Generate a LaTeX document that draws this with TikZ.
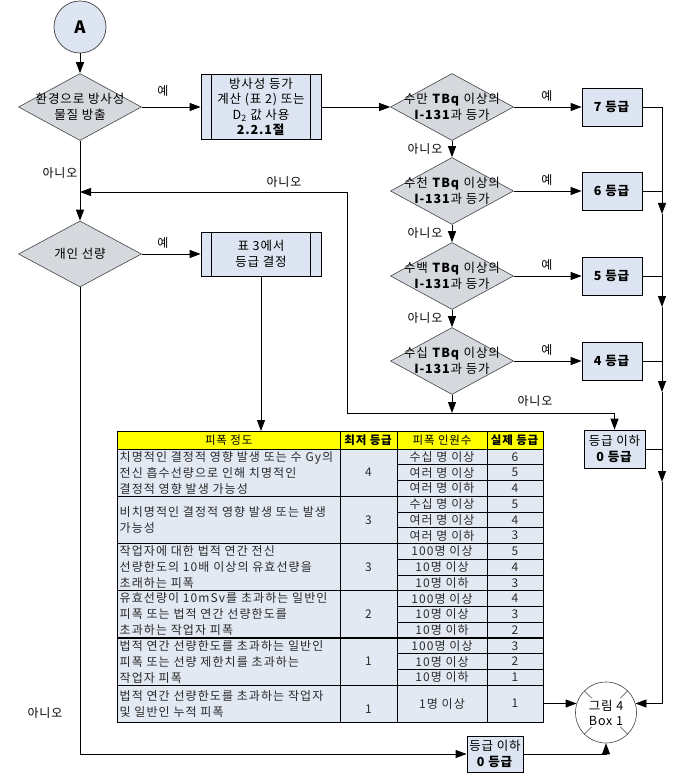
\documentclass[tikz,border=0pt]{standalone}
\usepackage{fontspec}
\setmainfont{Noto Sans CJK KR}[LetterSpace=7]
\newfontfamily\tabfont{Noto Sans CJK KR}[LetterSpace=9]
\usetikzlibrary{shapes.geometric,arrows.meta,calc}
\definecolor{diafill}{HTML}{D5D8DC}
\definecolor{boxfill}{HTML}{DCE5F1}
\definecolor{tabfill}{HTML}{E3E9F3}
\definecolor{hdrfill}{HTML}{FFFF00}
\definecolor{edge}{HTML}{444444}
\definecolor{tabtext}{HTML}{2A2A2A}
\begin{document}
\begin{tikzpicture}[x=1pt,y=-1pt,
  arr/.style={-{Triangle[length=11pt,width=8pt]}, line width=0.9pt},
  ln/.style={line width=0.9pt},
  dia/.style={diamond, draw=edge, fill=diafill, line width=0.6pt, minimum width=123pt, minimum height=67pt, inner sep=0pt},
  lbl/.style={font=\fontsize{12.5}{15.5}\selectfont, align=center, inner sep=0pt},
  small/.style={font=\fontsize{12}{14}\selectfont, inner sep=0pt},
  gbox/.style={draw=black, fill=boxfill, line width=0.8pt, minimum width=60pt, minimum height=38pt, align=center, inner sep=0pt, font=\fontsize{12.5}{15.5}\selectfont},
  pbox/.style={draw=black, fill=boxfill, line width=0.8pt, minimum width=120pt, align=center, inner sep=0pt, font=\fontsize{12.5}{15.5}\selectfont},
  cell/.style={font=\tabfont\fontsize{12}{16}\selectfont, inner sep=0pt, text=tabtext},
  hcell/.style={font=\fontsize{11.5}{14}\selectfont, inner sep=0pt, text=black},
  leftcell/.style={cell, align=left, anchor=west},
]
\fill[white] (0,0) rectangle (673,775);
\useasboundingbox (0,0) rectangle (673,775);

% ---------- left column ----------
\node[circle, draw=edge, fill=boxfill, line width=0.7pt, minimum size=52pt, inner sep=0pt,
      font=\bfseries\fontsize{17}{17}\selectfont] (A) at (80,27) {A};
\node[dia] (d1) at (80,107) {};
\node[lbl] (t1) at (80,107) {환경으로 방사성\\물질 방출};
\draw[arr] (A.south) -- (d1.north);

\node[pbox, minimum height=65pt] (b1) at (261,107) {방사성 등가\\계산 (표 2) 또는\\D\textsubscript{2} 값 사용\\\textbf{2.2.1절}};
\draw[line width=0.8pt] ([xshift=11pt]b1.north west) -- ([xshift=11pt]b1.south west);
\draw[line width=0.8pt] ([xshift=-11pt]b1.north east) -- ([xshift=-11pt]b1.south east);
\draw[arr] (d1.east) -- (b1.west);
\node[small] (y1) at (163,91) {예};

\node[dia, minimum height=66pt] (d6) at (80,254) {};
\node[lbl] (t6) at (80,254) {개인 선량};
\draw[arr] (d1.south) -- (d6.north);
\node[small] (n1) at (60,173) {아니오};

\node[pbox, minimum height=44pt] (b2) at (261,254) {표 3에서\\등급 결정};
\draw[line width=0.8pt] ([xshift=11pt]b2.north west) -- ([xshift=11pt]b2.south west);
\draw[line width=0.8pt] ([xshift=-11pt]b2.north east) -- ([xshift=-11pt]b2.south east);
\draw[arr] (d6.east) -- (b2.west);
\node[small] (y6) at (163,243) {예};

% ---------- right column ----------
\foreach \i/\yy/\txt/\g in {2/107/수만/7, 3/191/수천/6, 4/276/수백/5, 5/361/수십/4}{
  \node[dia] (d\i) at (452,\yy) {};
  \node[lbl] (t\i) at (452,\yy) {\txt{} \textbf{TBq} 이상의\\\textbf{I-131}과 등가};
  \node[gbox] (g\g) at (612,\yy) {\textbf{\g{} 등급}};
  \draw[arr] (d\i.east) -- (g\g.west);
  \node[small] (y\i) at (547,\yy-11) {예};
}
\draw[arr] (b1.east) -- (d2.west);
\draw[arr] (d2.south) -- (d3.north);
\draw[arr] (d3.south) -- (d4.north);
\draw[arr] (d4.south) -- (d5.north);
\node[small] (n2) at (425,149) {아니오};
\node[small] (n3) at (425,233.5) {아니오};
\node[small] (n4) at (425,318.5) {아니오};

% "no" from last diamond
\coordinate (k1) at (347,192);
\coordinate (k2) at (347,413);
\coordinate (k3) at (614.5,413);
\coordinate (j1) at (80,192);
\node[gbox, minimum width=61pt] (z0) at (614.5,449) {등급 이하\\\textbf{0 등급}};
\draw[arr] (d5.south) -- (d5.south |- k2);
\draw[arr] (k2) -- (k3) -- (z0.north);
\draw[arr] (k2) -- (k1) -- (j1);
\node[small] (n5) at (284,182) {아니오};
\node[small] (n6) at (535,401) {아니오};

% ---------- Figure 4 connector ----------
\node[circle, draw=edge, fill=white, line width=0.6pt, minimum size=61pt, inner sep=0pt, align=center,
      font=\fontsize{12.5}{15}\selectfont] (circ) at (606,712.5) {그림 4\\Box 1};
\foreach \a in {45,135,225,315}
  \draw[edge, line width=0.5pt] ($(circ.center)!0.66!(circ.\a)$) -- (circ.\a);

% right bus
\coordinate (r0) at (662,106);
\coordinate (r1) at (662,214);
\coordinate (r2) at (662,307);
\coordinate (r3) at (662,392);
\coordinate (r4) at (662,482);
\draw[arr] (g7.east) -- (g7.east -| r0) -- (r1);
\draw[arr] (r1) -- (r2);
\draw[arr] (r2) -- (r3);
\draw[arr] (r3) -- (r4);
\draw[arr] (r4) -- (r4 |- circ.17) -- (circ.17);
\draw[ln] (g6.east) -- (g6.east -| r0);
\draw[ln] (g5.east) -- (g5.east -| r0);
\draw[ln] (g4.east) -- (g4.east -| r0);
\draw[ln] (z0.east) -- (z0.east -| r0);

% bottom path
\node[gbox, minimum width=56pt, minimum height=36pt] (bz) at (495,754) {등급 이하\\\textbf{0 등급}};
\draw[arr] (d6.south) -- (d6.south |- bz.west) -- (bz.west);
\draw[arr] (bz.east) -- (bz.east -| circ.south) -- (circ.south);
\node[small] (n7) at (45,713) {아니오};

% ---------- table ----------
\def\TL{117.5}\def\CA{340}\def\CB{397}\def\CC{487}\def\TR{543}
\fill[tabfill] (\TL,449) rectangle (\TR,722);
\fill[hdrfill] (\TL,431) rectangle (\TR,449);
\coordinate (tabtop) at (262,431);
\draw[arr] (b2.south) -- (b2.south |- tabtop);

% subrow lines
\foreach \i in {0,...,4}{
  \draw[line width=0.6pt] (\CB,{449+47.25*\i+15.75}) -- (\TR,{449+47.25*\i+15.75});
  \draw[line width=0.6pt] (\CB,{449+47.25*\i+31.5}) -- (\TR,{449+47.25*\i+31.5});
}
% group lines
\foreach \i in {1,...,5}
  \draw[line width=1.1pt] (\TL,{449+47.25*\i}) -- (\TR,{449+47.25*\i});
\draw[line width=0.8pt] (\TL,449) -- (\TR,449);
\draw[line width=0.8pt] (\CA,431) -- (\CA,722);
\draw[line width=0.8pt] (\CB,431) -- (\CB,722);
\draw[line width=0.8pt] (\CC,431) -- (\CC,722);
\draw[line width=1pt] (\TL,431) rectangle (\TR,722);
\coordinate (tabr) at (\TR,703);
\draw[arr] (tabr |- circ.163) -- (circ.163);

% header
\node[hcell] (h1) at (228.75,440) {피폭 정도};
\node[hcell] (h2) at (368.5,440) {\textbf{최저 등급}};
\node[hcell] (h3) at (442,440) {피폭 인원수};
\node[hcell] (h4) at (515,440) {\textbf{실제 등급}};

% first column
\node[leftcell] (e1) at (119.5,472.6) {치명적인 결정적 영향 발생 또는 수 Gy의\\전신 흡수선량으로 인해 치명적인\\결정적 영향 발생 가능성};
\node[leftcell] (e2) at (119.5,519.9) {비치명적인 결정적 영향 발생 또는 발생\\가능성};
\node[leftcell] (e3) at (119.5,567.1) {작업자에 대한 법적 연간 전신\\선량한도의 10배 이상의 유효선량을\\초래하는 피폭};
\node[leftcell] (e4) at (119.5,614.4) {유효선량이 10mSv를 초과하는 일반인\\피폭 또는 법적 연간 선량한도를\\초과하는 작업자 피폭};
\node[leftcell] (e5) at (119.5,661.6) {법적 연간 선량한도를 초과하는 일반인\\피폭 또는 선량 제한치를 초과하는\\작업자 피폭};
\node[leftcell] (e6) at (119.5,703.6) {법적 연간 선량한도를 초과하는 작업자\\및 일반인 누적 피폭};

% minimum grade
\foreach \i/\v in {0/4,1/3,2/3,3/2,4/1,5/1}
  \node[cell] (m\i) at (368.5,{449+47.25*\i+23.6}) {\v};

% counts and actual grade
\foreach \i/\pa/\pb/\pc/\ga/\gb/\gc in {
  0/수십 명 이상/여러 명 이상/여러 명 이하/6/5/4,
  1/수십 명 이상/여러 명 이상/여러 명 이하/5/4/3,
  2/100명 이상/10명 이상/10명 이하/5/4/3,
  3/100명 이상/10명 이상/10명 이하/4/3/2,
  4/100명 이상/10명 이상/10명 이하/3/2/1}{
  \node[cell] (pa\i) at (442,{449+47.25*\i+7.9}) {\pa};
  \node[cell] (pb\i) at (442,{449+47.25*\i+23.6}) {\pb};
  \node[cell] (pc\i) at (442,{449+47.25*\i+39.4}) {\pc};
  \node[cell] (ga\i) at (515,{449+47.25*\i+7.9}) {\ga};
  \node[cell] (gb\i) at (515,{449+47.25*\i+23.6}) {\gb};
  \node[cell] (gc\i) at (515,{449+47.25*\i+39.4}) {\gc};
}
\node[cell] (pa5) at (442,703.6) {1명 이상};
\node[cell] (ga5) at (515,703.6) {1};
\end{tikzpicture}
\end{document}
